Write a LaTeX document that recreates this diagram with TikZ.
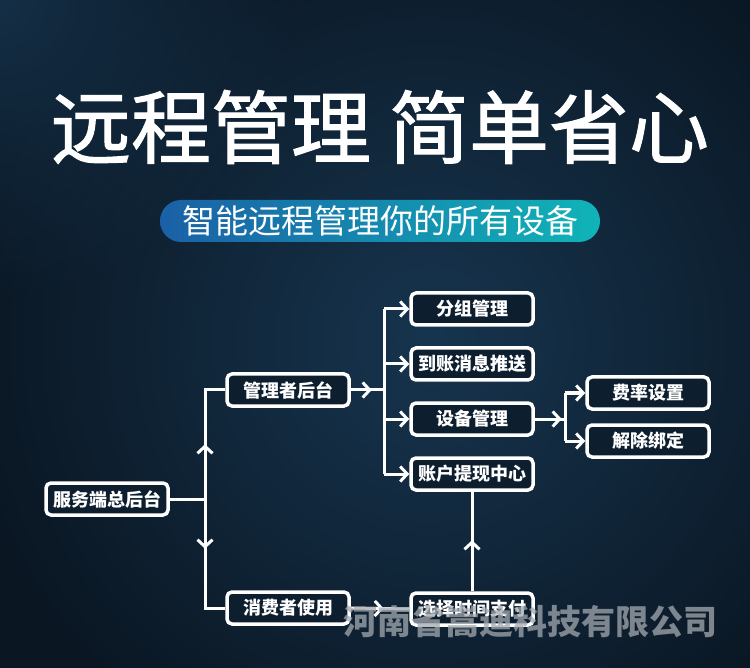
\documentclass[tikz,border=0pt]{standalone}
\usepackage{fontspec}
\newfontfamily\cjk{Noto Sans CJK SC}
\newfontfamily\cjkthick[FakeBold=1.2]{Noto Sans CJK SC}
\usetikzlibrary{arrows.meta,decorations.markings,positioning,fadings}
\definecolor{bgdark}{HTML}{0A1622}
\definecolor{bglight}{HTML}{17354F}
\definecolor{pillblue}{HTML}{1A60A6}
\definecolor{pillteal}{HTML}{10B4B8}
\definecolor{boxfill}{HTML}{0D1E2F}
\definecolor{markgray}{HTML}{A3A9AF}
\tikzfading[name=glow, inner color=transparent!0, outer color=transparent!100]
\tikzset{
  box/.style={draw=white, line width=3.5pt, rounded corners=5pt, fill=boxfill,
    minimum width=122pt, minimum height=32pt, inner sep=0pt, text=white,
    font=\cjk\bfseries\fontsize{18}{18}\selectfont},
  wire/.style={draw=white, line width=3pt},
  barb/.style={-{Straight Barb[length=7pt,width=15pt]}},
  midbarb/.style={postaction={decorate}, decoration={markings,
    mark=at position #1 with {\arrow{Straight Barb[length=7pt,width=15pt]}}}}
}
\begin{document}
\begin{tikzpicture}[x=1pt, y=-1pt, node distance=55pt]
        \useasboundingbox (0,0) rectangle (750,668);
        % Background
        \fill[bgdark] (0,0) rectangle (750,668);
        \fill[bglight, path fading=glow] (430,340) circle (480pt);
        \fill[bglight, path fading=glow, opacity=0.8] (0,0) circle (300pt);

        % Title
        \node (title) at (380,127) [text=white, font=\cjkthick\fontsize{80}{80}\selectfont]
            {远程管理\hspace{18pt}简单省心};
        \shade[left color=pillblue, right color=pillteal, rounded corners=21pt]
            (160,200) rectangle (600,242);
        \node (sub) at (380,221) [text=white, font=\cjk\fontsize{33}{33}\selectfont]
            {智能远程管理你的所有设备};

        % Nodes
        \node (root) at (107,499) [box] {服务端总后台};
        \node (mgr) at (288,390) [box] {管理者后台};
        \node (user) at (288,608) [box] {消费者使用};
        \node (grp) at (472,309) [box] {分组管理};
        \node (msg) [box, below of=grp] {到账消息推送};
        \node (dev) [box, below of=msg] {设备管理};
        \node (acct) [box, below of=dev] {账户提现中心};
        \node (rate) at (648,393) [box] {费率设置};
        \node (unbind) [box, below of=rate, node distance=48pt] {解除绑定};
        \node (pay) at (472,609) [box] {选择时间支付};

        % Junctions
        \coordinate (j0) at (205,499);
        \coordinate (j1) at (384,390);
        \coordinate (j2) at (565,419);

        % Edges
        \draw[wire, midbarb=90pt] (root.east) -- (j0) |- (mgr.west);
        \draw[wire, midbarb=85pt] (root.east) -- (j0) |- (user.west);
        \draw[wire, midbarb=21pt] (mgr.east) -- (j1);
        \draw[wire] (j1 |- grp) -- (j1 |- acct);
        \foreach \n in {grp, msg, dev, acct}
            \draw[wire, barb] (j1 |- \n) -- (\n.west);
        \draw[wire, midbarb=27pt] (dev.east) -- (j2);
        \draw[wire] (j2 |- rate) -- (j2 |- unbind);
        \foreach \n in {rate, unbind}
            \draw[wire, barb] (j2 |- \n) -- (\n.west);
        \draw[wire, midbarb=33pt] (user.east) -- (pay.west);
        \draw[wire, midbarb=51pt] (pay.north) -- (acct.south);

        % Watermark
        \node (mark) at (530,622) [text=markgray, opacity=0.75,
            font=\cjk\bfseries\fontsize{34}{34}\selectfont] {河南省嵩迪科技有限公司};
    \end{tikzpicture}
\end{document}
